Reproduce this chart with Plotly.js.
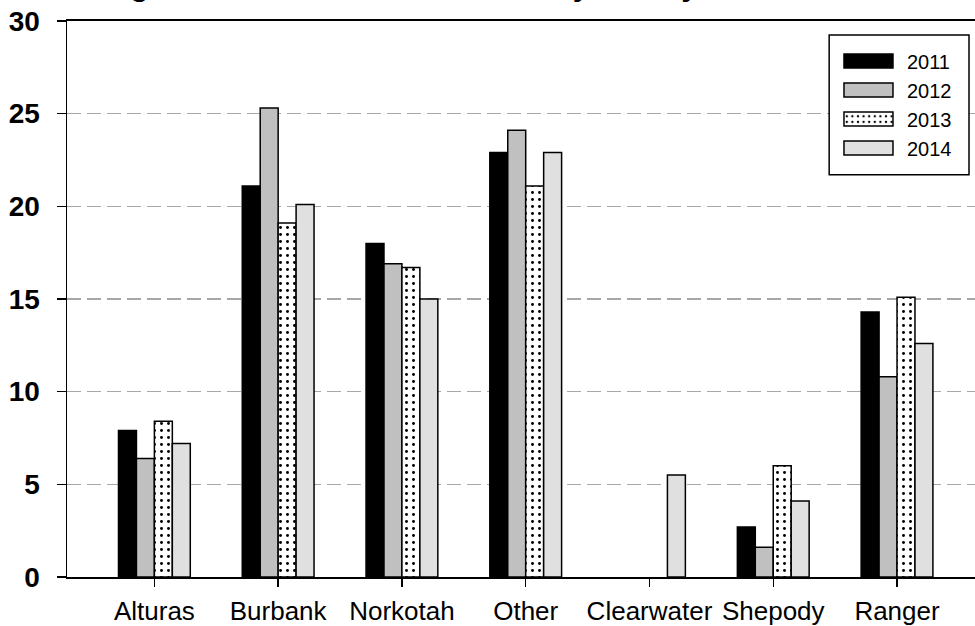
<!DOCTYPE html>
<html>
<head>
<meta charset="utf-8">
<script src="https://cdn.plot.ly/plotly-3.0.1.min.js"></script>
<style>html,body{margin:0;padding:0;background:#fff;}#chart{width:975px;height:626px;}</style>
</head>
<body>
<div id="chart"></div>
<script>
// ---- data ----
const categories = ['Alturas', 'Burbank', 'Norkotah', 'Other', 'Clearwater', 'Shepody', 'Ranger'];
const seriesNames = ['2011', '2012', '2013', '2014'];
const y2011 = [7.9, 21.1, 18.0, 22.9, null, 2.7, 14.3];
const y2012 = [6.4, 25.3, 16.9, 24.1, null, 1.6, 10.8];
const y2013 = [8.4, 19.1, 16.7, 21.1, null, 6.0, 15.1];
const y2014 = [7.2, 20.1, 15.0, 22.9, 5.5, 4.1, 12.6];
const yTicks = [0, 5, 10, 15, 20, 25, 30];
const titleText = 'Percentage of all certified seed acres by variety in Idaho, 2011-2014';

const FONT = 'Liberation Sans, Arial, sans-serif';
const lineCol = '#000000';

function barTrace(name, y, color, pattern) {
  const t = {
    type: 'bar', name: name, x: categories, y: y,
    marker: { color: color, line: { color: lineCol, width: 1.5 } },
    hoverinfo: 'skip'
  };
  if (pattern) t.marker.pattern = pattern;
  return t;
}

const data = [
  barTrace(seriesNames[0], y2011, '#000000'),
  barTrace(seriesNames[1], y2012, '#c0c0c0'),
  barTrace(seriesNames[2], y2013, '#ffffff', { shape: '.', bgcolor: '#ffffff', fgcolor: '#000000', size: 7, solidity: 0.14 }),
  barTrace(seriesNames[3], y2014, '#e0e0e0')
];

const layout = {
  width: 975, height: 626,
  margin: { l: 67, r: 0, t: 21, b: 49, pad: 0 },
  paper_bgcolor: '#ffffff', plot_bgcolor: '#ffffff',
  barmode: 'group', bargap: 0.42, bargroupgap: 0,
  showlegend: true,
  legend: {
    x: 0.848, y: 0.963, xanchor: 'left', yanchor: 'top',
    bgcolor: 'rgba(0,0,0,0)', borderwidth: 0,
    itemwidth: 60,
    font: { family: FONT, size: 20, color: '#000' }
  },
  xaxis: {
    type: 'category', range: [-0.706, 6.63],
    showline: true, linecolor: lineCol, linewidth: 2, mirror: true,
    ticks: 'outside', ticklen: 8, tickwidth: 1.5, tickcolor: lineCol,
    ticklabelstandoff: 2,
    tickfont: { family: FONT, size: 26, color: '#000' },
    showgrid: false, zeroline: false, fixedrange: true
  },
  yaxis: {
    range: [0, 30], tickvals: yTicks, ticktext: yTicks.map(String),
    showline: true, linecolor: lineCol, linewidth: 1.5,
    ticks: 'outside', ticklen: 9, tickwidth: 1.5, tickcolor: lineCol,
    ticklabelstandoff: 11,
    tickfont: { family: FONT, size: 28, color: '#000', weight: 'bold' },
    showgrid: true, gridcolor: '#a8a8a8', gridwidth: 1.5, griddash: '14px,6px',
    zeroline: false, fixedrange: true
  },
  shapes: [{
    type: 'rect', xref: 'paper', yref: 'paper',
    x0: 0.8394, x1: 0.9934, y0: 0.7235, y1: 0.9749,
    line: { color: '#000', width: 1.5 }, fillcolor: '#ffffff', layer: 'above'
  }],
  annotations: [{
    text: titleText, showarrow: false,
    xref: 'paper', yref: 'paper', x: -0.077, y: 1.0298,
    xanchor: 'left', yanchor: 'bottom',
    font: { family: FONT, size: 31, color: '#000', weight: 'bold' }
  }]
};

Plotly.newPlot('chart', data, layout, { displayModeBar: false, staticPlot: true }).then(function (gd) {
  // widen legend swatches to match the reference
  gd.querySelectorAll('.legend .traces').forEach(function (tr) {
    const p = tr.querySelector('.legendpoints path');
    const txt = tr.querySelector('text.legendtext');
    if (!p || !txt) return;
    const bb = p.getBBox();
    const r = p.getBoundingClientRect();
    const tr2 = txt.getBoundingClientRect();
    const cy = bb.y + bb.height / 2;
    const rightScreen = tr2.left - 14;
    const leftScreen = rightScreen - 49;
    const x1 = bb.x + (leftScreen - r.left);
    const x2 = bb.x + (rightScreen - r.left);
    p.setAttribute('d', 'M' + x1 + ',' + (cy - 7) + 'H' + x2 + 'V' + (cy + 7) + 'H' + x1 + 'Z');
  });
});
</script>
</body>
</html>
